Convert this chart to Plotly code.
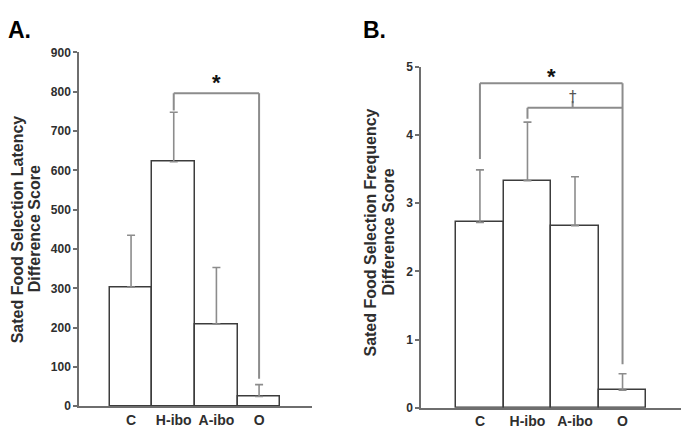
import plotly.graph_objects as go

categories = ["C", "H-ibo", "A-ibo", "O"]

# Panel A: latency difference score
latency_mean = [303, 622, 209, 25]
latency_sem = [132, 126, 144, 30]

# Panel B: frequency difference score
freq_mean = [2.72, 3.33, 2.67, 0.26]
freq_sem = [0.77, 0.86, 0.72, 0.24]

# significance brackets: (left index, right index, bar height, left leg end, right leg end)
bracket_a = [(1, 3, 796, 752, 70)]
bracket_b = [(0, 3, 4.76, 3.65, 0.64), (1, 3, 4.40, 4.24, 4.40)]
star_a = (2.0, 823)
star_b = (1.5, 4.86)
dagger_b = (1.95, 4.56)

BAR_LINE = "#3c3c3c"
ERR = "#8c8c8c"
AX = "#6e6e6e"
TXT = "#2e2e2e"
FONT = "Liberation Sans"

# page body has an 8px margin on every side: the figure fills the rest of the window
OFF = 8
W, H = 689 - 2 * OFF, 438 - 2 * OFF
def PX(px):
    return min(1.0, max(0.0, (px - OFF) / W))
def PY(py):
    return min(1.0, max(0.0, 1 - (py - OFF) / H))

fig = go.Figure()

fig.add_trace(go.Bar(
    x=categories, y=latency_mean, width=1.0,
    marker=dict(color="white", line=dict(color=BAR_LINE, width=1.5)),
    error_y=dict(type="data", symmetric=False, array=latency_sem,
                 arrayminus=[0] * len(latency_sem), color=ERR, thickness=1.6, width=4),
    xaxis="x", yaxis="y", showlegend=False))

fig.add_trace(go.Bar(
    x=categories, y=freq_mean, width=1.0,
    marker=dict(color="white", line=dict(color=BAR_LINE, width=1.5)),
    error_y=dict(type="data", symmetric=False, array=freq_sem,
                 arrayminus=[0] * len(freq_sem), color=ERR, thickness=1.6, width=4),
    xaxis="x2", yaxis="y2", showlegend=False))

shapes = []
def add_bracket(b, xr, yr):
    l, r, h, le, re = b
    line = dict(color=ERR, width=2)
    shapes.append(dict(type="line", xref=xr, yref=yr, x0=l, x1=r, y0=h, y1=h, line=line))
    shapes.append(dict(type="line", xref=xr, yref=yr, x0=l, x1=l, y0=h, y1=le, line=line))
    shapes.append(dict(type="line", xref=xr, yref=yr, x0=r, x1=r, y0=h, y1=re, line=line))

for b in bracket_a:
    add_bracket(b, "x", "y")
for b in bracket_b:
    add_bracket(b, "x2", "y2")
# dagger stem
shapes.append(dict(type="line", xref="x2", yref="y2", x0=dagger_b[0], x1=dagger_b[0],
                   y0=bracket_b[1][2], y1=dagger_b[1] - 0.06, line=dict(color=ERR, width=2)))

axfont = dict(family=FONT, size=12, color=TXT, weight="bold")
catfont = dict(family=FONT, size=14, color=TXT, weight="bold")

def yaxis_cfg(domain, rng, dtick, anchor):
    return dict(domain=domain, range=rng, dtick=dtick, anchor=anchor,
                showline=True, linecolor=AX, linewidth=1.5, ticks="outside",
                ticklen=4, tickcolor=AX, tickwidth=1.5, showgrid=False, zeroline=False,
                tickfont=axfont, fixedrange=True)

def xaxis_cfg(domain, rng, anchor):
    return dict(domain=domain, range=rng, anchor=anchor, type="category",
                showline=True, linecolor=AX, linewidth=1.5, ticks="",
                showgrid=False, zeroline=False, tickfont=catfont, fixedrange=True)

titlefont = dict(family=FONT, size=16, color=TXT, weight="bold")
def title_ann(text, px, py):
    return dict(text=text, x=PX(px), y=PY(py), xref="paper", yref="paper",
                xanchor="center", yanchor="middle", textangle=-90,
                showarrow=False, font=titlefont)

annotations = [
    dict(text="A.", x=0, y=1, xshift=-2, yshift=0, xref="paper", yref="paper", xanchor="left",
         yanchor="top", showarrow=False, font=dict(family=FONT, size=23, color="black", weight="bold")),
    dict(text="B.", x=PX(361), y=1, yshift=0, xref="paper", yref="paper", xanchor="left",
         yanchor="top", showarrow=False, font=dict(family=FONT, size=23, color="black", weight="bold")),
    title_ann("Sated Food Selection Latency", 17, 229.7),
    title_ann("Difference Score", 34, 229.7),
    title_ann("Sated Food Selection Frequency", 371, 233),
    title_ann("Difference Score", 389, 233),
    dict(text="*", x=star_a[0], y=star_a[1], xref="x", yref="y", showarrow=False,
         yanchor="middle", yshift=0, font=dict(family=FONT, size=22, color="#111", weight="bold")),
    dict(text="*", x=star_b[0], y=star_b[1], xref="x2", yref="y2", showarrow=False,
         yanchor="middle", yshift=0, font=dict(family=FONT, size=22, color="#111", weight="bold")),
    dict(text="†", x=dagger_b[0], y=dagger_b[1], xref="x2", yref="y2", showarrow=False,
         yanchor="middle", font=dict(family="DejaVu Sans", size=15, color="#555555")),
]

fig.update_layout(
    width=W, height=H, margin=dict(l=0, r=0, t=0, b=0),
    paper_bgcolor="white", plot_bgcolor="white", bargap=0,
    xaxis=xaxis_cfg([PX(79), PX(312)], [-1.22, 4.24], "y"),
    yaxis=yaxis_cfg([PY(412.7), PY(46.7)], [0, 900], 100, "x"),
    xaxis2=xaxis_cfg([PX(421), PX(681.7)], [-1.24, 4.23], "y2"),
    yaxis2=yaxis_cfg([PY(414.3), PY(61.7)], [0, 5], 1, "x2"),
    shapes=shapes, annotations=annotations,
)

fig.write_html("out.html")
